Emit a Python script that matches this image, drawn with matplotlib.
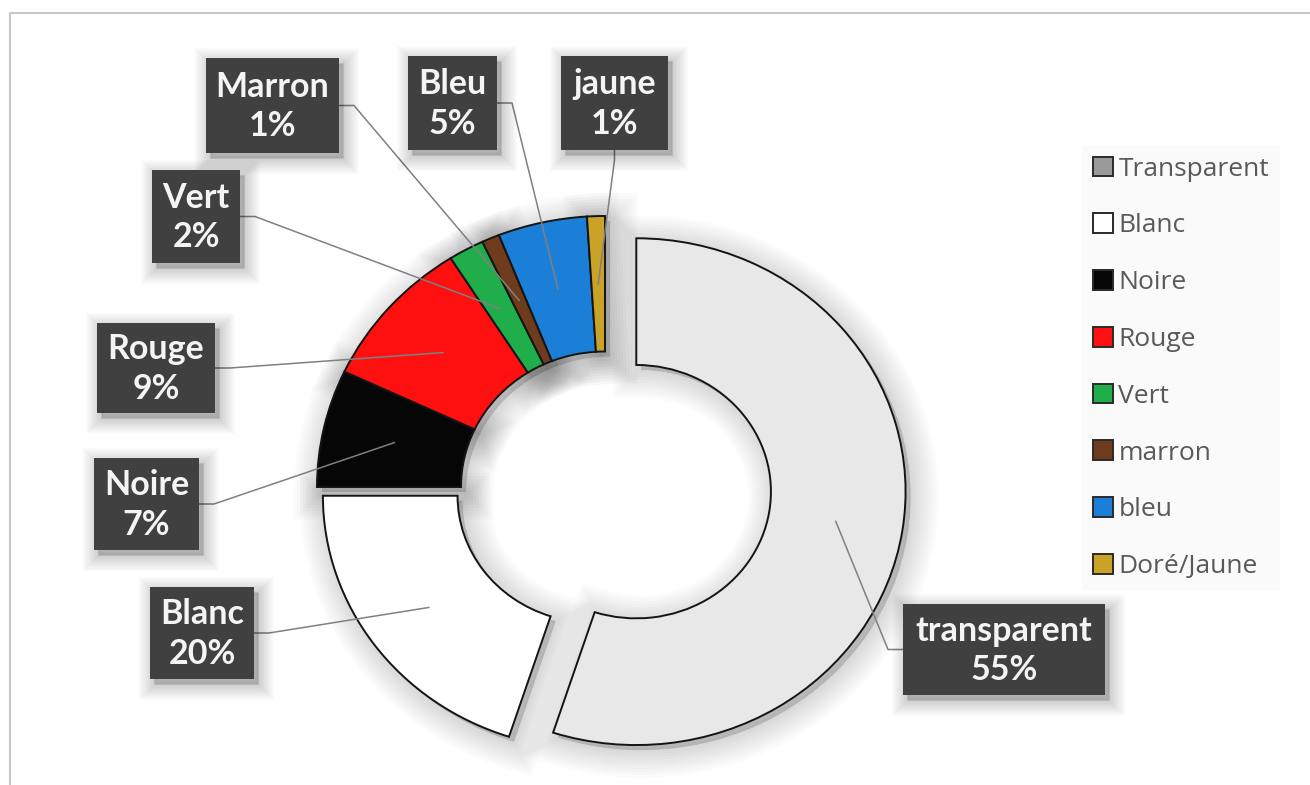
import matplotlib
matplotlib.use('Agg')
import matplotlib.pyplot as plt
from matplotlib.patches import Rectangle, Wedge
from matplotlib.transforms import offset_copy
import numpy as np

W, H = 1310, 785

# share of each colour (%)
categories = ['Transparent', 'Blanc', 'Noire', 'Rouge', 'Vert', 'marron', 'bleu', 'Doré/Jaune']
label_names = ['transparent', 'Blanc', 'Noire', 'Rouge', 'Vert', 'Marron', 'Bleu', 'jaune']
shares = [55, 20, 7, 9, 2, 1, 5, 1]
colors = ['#e8e8e8', '#ffffff', '#060606', '#ff1010', '#1fae4a', '#6e3b1c', '#1b7fd8', '#c9a227']
explode = [0.11, 0.055, 0, 0, 0, 0, 0, 0]

# label boxes in pixels (left, top, right, bottom) and the side the leader leaves from
boxes = [(903, 604, 1105, 695), (150, 587, 254, 679), (94, 458, 199, 550),
         (97, 323, 215, 413), (152, 170, 240, 263), (206, 58, 339, 153),
         (408, 56, 497, 150), (561, 56, 668, 150)]
sides = ['l', 'r', 'r', 'r', 'r', 'r', 'r', 'b']

fig = plt.figure(figsize=(W / 100, H / 100), dpi=100)
fig.patch.set_facecolor('white')

# doughnut axes, a bit wider than tall
cx, cy, rx, ry = 605, 487, 288, 271
ax = fig.add_axes([(cx - rx) / W, (H - cy - ry) / H, 2 * rx / W, 2 * ry / H])
wedges, _ = ax.pie(shares, colors=colors, explode=explode, startangle=90,
                   counterclock=False,
                   wedgeprops=dict(width=0.5, edgecolor='#141414', linewidth=1.4))
ax.set_aspect('auto')
ax.set_xlim(-1, 1)
ax.set_ylim(-1, 1)
for w, e in zip(wedges, explode):
    if e > 0:
        w.set_radius(0.935)
        w.set_width(0.935 * 0.5)
    w.set_clip_on(False)

leg = ax.legend(wedges, categories, loc='upper left',
                bbox_to_anchor=(1082 / W, 1 - 146 / H), bbox_transform=fig.transFigure,
                borderaxespad=0, frameon=True, facecolor='#fafafa', edgecolor='none',
                framealpha=1, fancybox=False, handlelength=0.78, handleheight=0.78,
                handletextpad=0.2, labelspacing=1.2, borderpad=0.4,
                prop=dict(family='Open Sans', size=19), labelcolor='#595959')
leg.legend_handles[0].set_facecolor('#9a9a9a')
for h in leg.legend_handles:
    h.set_edgecolor('#2a2a2a')

# soft drop shadow under every piece
sh_tr = offset_copy(ax.transData, fig=fig, x=5, y=-5, units='dots')
for w in wedges:
    for lw in np.linspace(40, 2, 10):
        ax.add_patch(Wedge(w.center, w.r, w.theta1, w.theta2, width=w.width,
                           transform=sh_tr, fc=(0, 0, 0, 0.017), ec=(0, 0, 0, 0.017),
                           lw=lw, zorder=0, clip_on=False))

# overlay in pixel coordinates for the frame, labels and leader lines
ov = fig.add_axes([0, 0, 1, 1], zorder=3)
ov.set_xlim(0, W)
ov.set_ylim(H, 0)
ov.axis('off')

ov.plot([10, 10, W], [H, 13, 13], color='#c6c6c6', lw=1.5)

to_px = ov.transData.inverted()
for w, name, share, (l, t, r, b), side in zip(wedges, label_names, shares, boxes, sides):
    a = np.deg2rad((w.theta1 + w.theta2) / 2)
    rm = w.r - w.width / 2
    px, py = to_px.transform(ax.transData.transform(
        (w.center[0] + rm * np.cos(a), w.center[1] + rm * np.sin(a))))
    if side == 'r':
        xs, ys = [r, r + 15, px], [(t + b) / 2, (t + b) / 2, py]
    elif side == 'l':
        xs, ys = [l, l - 15, px], [(t + b) / 2, (t + b) / 2, py]
    else:
        xs, ys = [(l + r) / 2, (l + r) / 2, px], [b, b + 10, py]
    ov.plot(xs, ys, color='#808080', lw=1.1, zorder=2)

    for lw in np.linspace(22, 2, 8):
        ov.add_patch(Rectangle((l + 4, t + 5), r - l, b - t, fc=(0, 0, 0, 0.025),
                               ec=(0, 0, 0, 0.025), lw=lw, zorder=3))
    ov.add_patch(Rectangle((l, t), r - l, b - t, fc='#404040', ec='none', zorder=4))
    ov.text((l + r) / 2, (t + b) / 2 + 1, f'{name}\n{share}%', ha='center', va='center',
            color='#f4f4f4', fontsize=24.5, fontweight='bold', family='Lato',
            linespacing=1.3, zorder=5)

fig.savefig('out.png', dpi=100, facecolor='white')
